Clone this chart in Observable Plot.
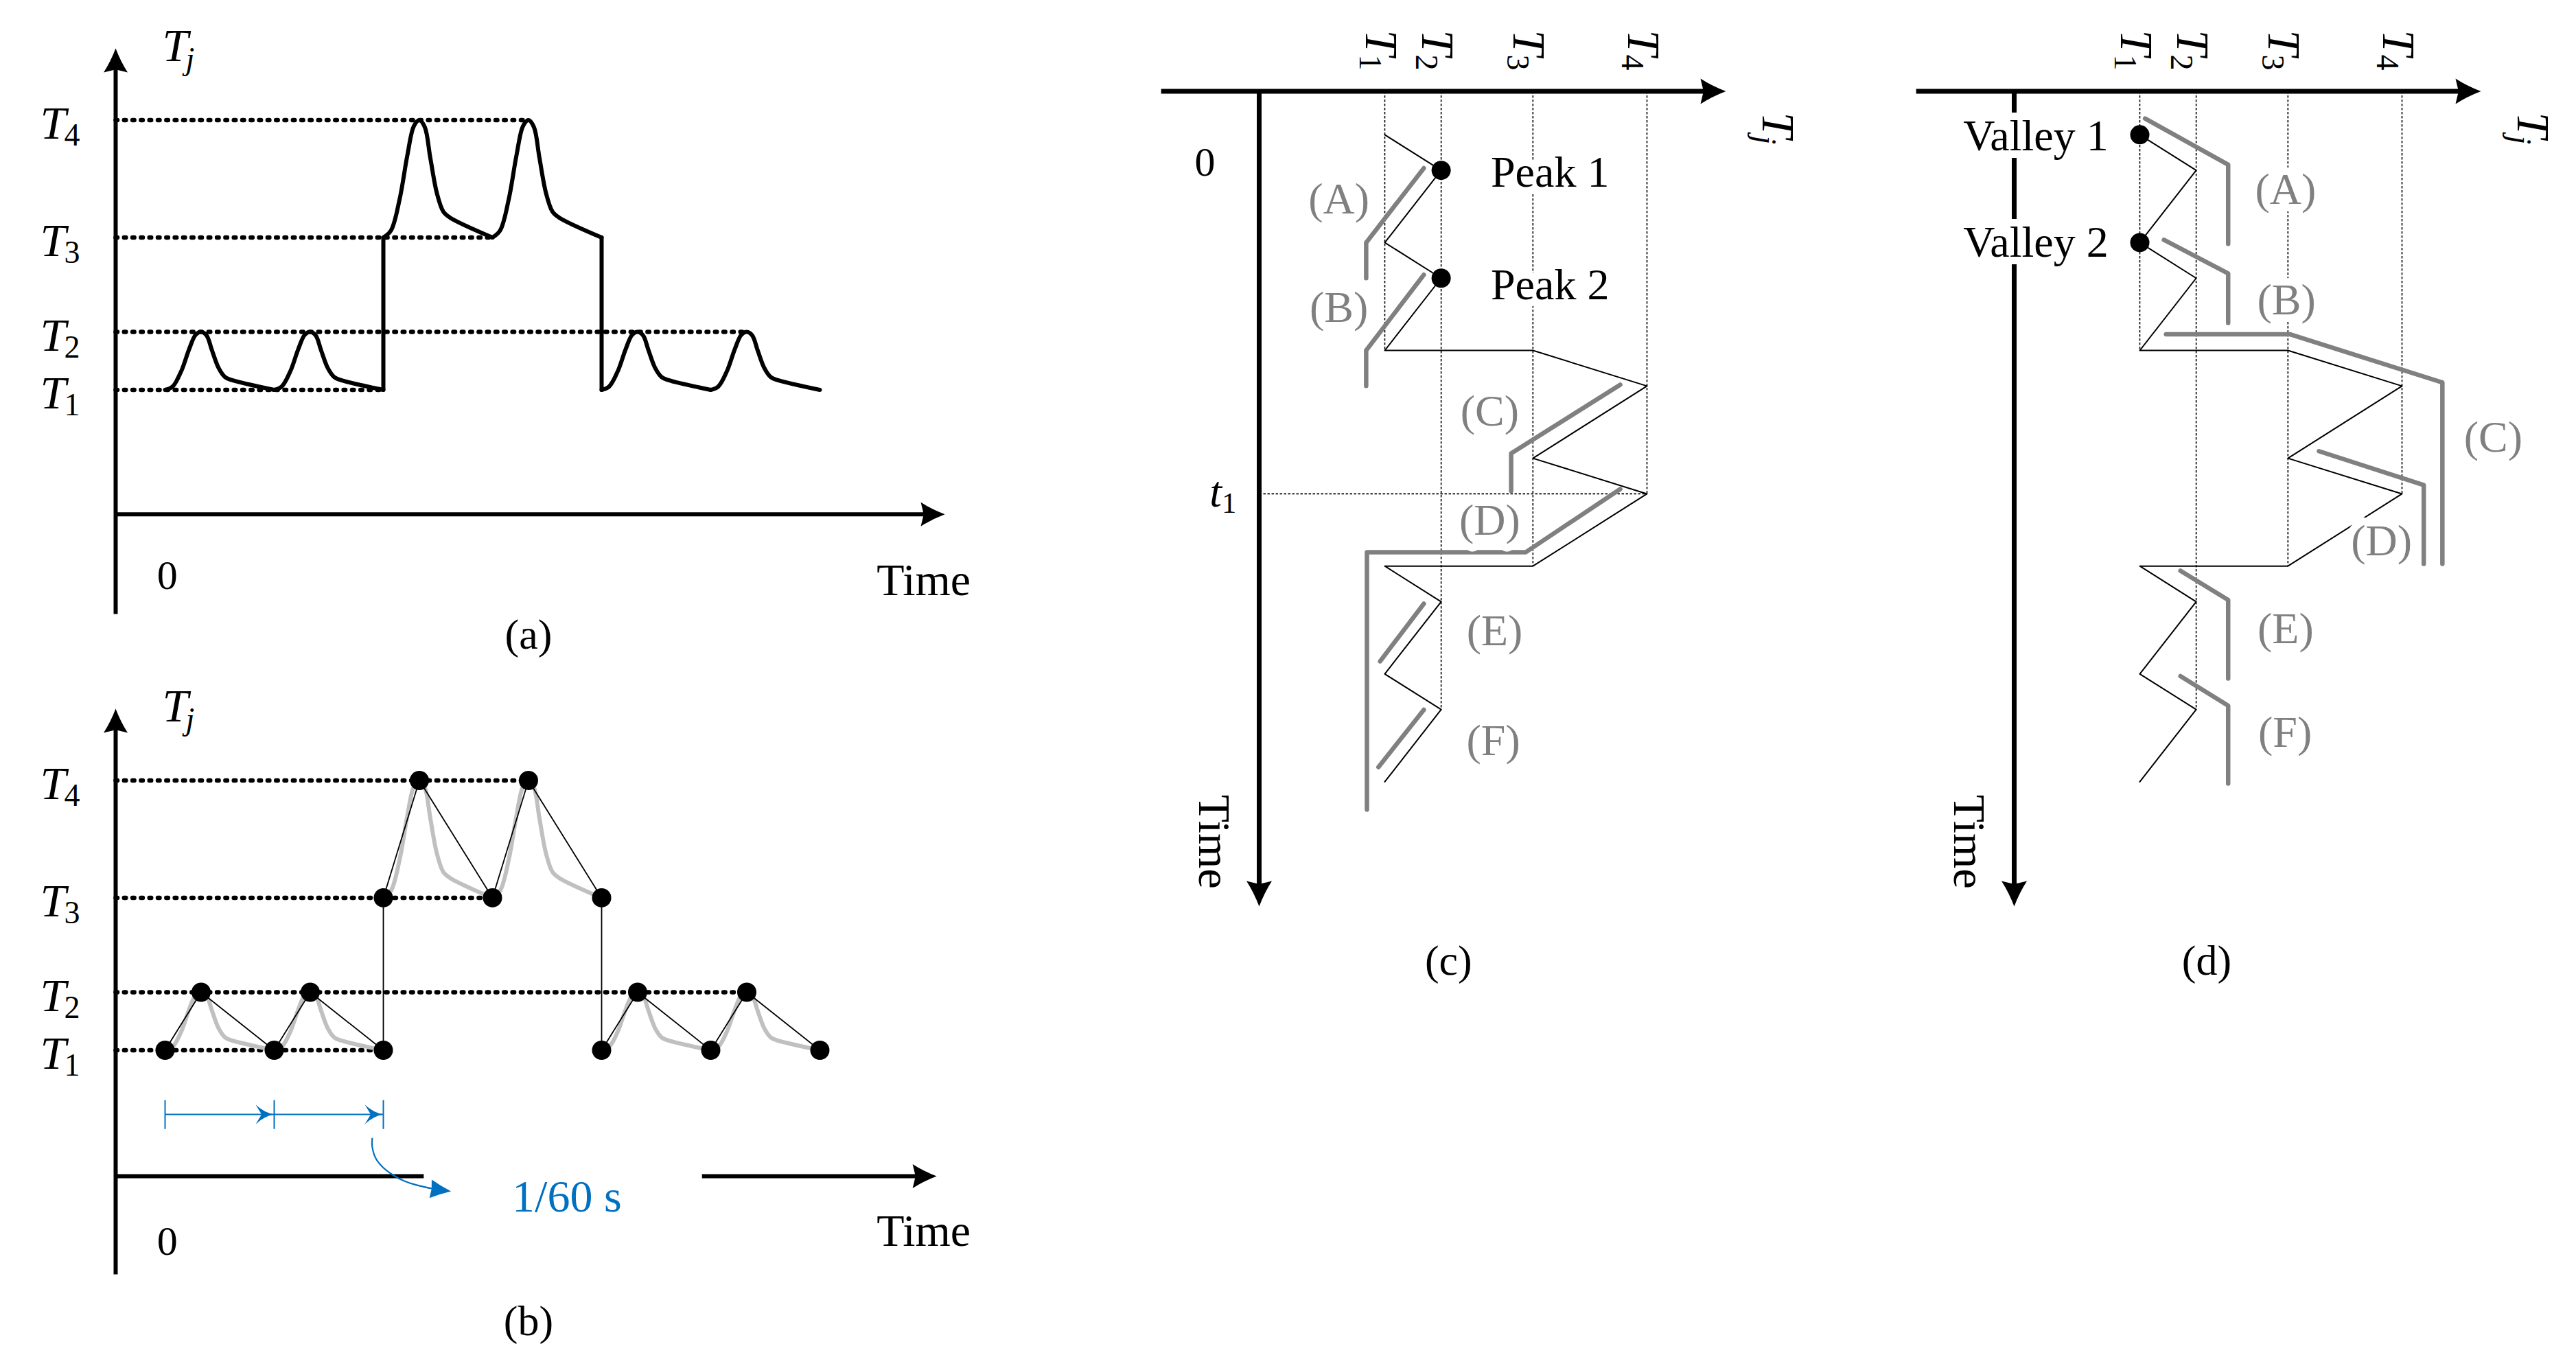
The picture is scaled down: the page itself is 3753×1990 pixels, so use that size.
<!DOCTYPE html>
<html>
<head>
<meta charset="utf-8">
<script src="https://cdn.jsdelivr.net/npm/d3@7"></script>
<script src="https://cdn.jsdelivr.net/npm/@observablehq/plot@0.6"></script>
<style>
  html, body { margin: 0; padding: 0; background: #fff; }
  #root { position: relative; width: 3753px; height: 1990px; background: #fff; overflow: hidden; }
  .panel { position: absolute; }
  .panel svg { overflow: visible; max-width: none !important; }
</style>
</head>
<body>
<div id="root"></div>
<script>
// ================= data =================
const levelNames  = ["T1", "T2", "T3", "T4"];
const levelSubs   = ["1", "2", "3", "4"];
const levelValues = [0, 0.215, 0.565, 1];          // normalized junction temperature

// one heating cycle per frame (1/60 s)
const cycleStart = [0, 1, 2, 3, 4, 5];
const cycleLow   = ["T1", "T1", "T3", "T3", "T1", "T1"];
const cycleHigh  = ["T2", "T2", "T4", "T4", "T2", "T2"];

// pulse profile inside one cycle: phase of the frame, fraction of the swing
const pulsePhase = [0, 0.07, 0.15, 0.22, 0.28, 0.33, 0.38, 0.43, 0.49, 0.55, 0.61, 1];
const pulseFrac  = [0, 0.06, 0.33, 0.70, 0.95, 1.00, 0.94, 0.68, 0.38, 0.22, 0.17, 0];

// level jumps between operating conditions
const jumpTime = [2, 4];
const jumpFrom = ["T1", "T3"];
const jumpTo   = ["T3", "T1"];

// sampled points (dots in b, zigzag in c and d)
const sampleTime  = [0, 0.33, 1, 1.33, 2, 2, 2.33, 3, 3.33, 4, 4, 4.33, 5, 5.33, 6];
const sampleLevel = ["T1","T2","T1","T2","T1","T3","T4","T3","T4","T3","T1","T2","T1","T2","T1"];

// where each dotted reference line stops (frames)
const levelLineEndAB = [2, 5.33, 3, 3.33];
const levelLineEndCD = [2, 5.33, 4, 3.33];

const frameTicks = [0, 1, 2];
const frameLabel = "1/60 s";
const frameArrowT = [1.898, 1.898, 1.930, 1.994, 2.091, 2.188, 2.316, 2.460, 2.62];
const frameArrowV = [-0.327, -0.357, -0.400, -0.433, -0.463, -0.484, -0.501, -0.514, -0.523];

const t1Frame = 3.33;
const peakFrames   = [0.33, 1.33];
const peakNames    = ["Peak 1", "Peak 2"];
const peakLabelT   = [0.479, 1.523];
const valleyFrames = [0, 1];
const valleyNames  = ["Valley 1", "Valley 2"];
const valleyLabelT = [0.145, 1.134];

const regionNames = ["(A)", "(B)", "(C)", "(D)", "(E)", "(F)"];
// gray trajectories, points as [level, frame]
const grayC = [
  [[0.149, 0.31], [-0.071, 1.0], [-0.071, 1.33]],
  [[0.149, 1.298], [-0.071, 2.0], [-0.071, 2.33]],
  [[0.898, 2.318], [0.482, 2.955], [0.482, 3.304]],
  [[0.898, 3.286], [0.537, 3.872], [-0.068, 3.872], [-0.068, 6.258]],
  [[0.149, 4.349], [-0.018, 4.883]],
  [[0.149, 5.332], [-0.024, 5.864]]
];
const grayD = [
  [[0.020, -0.151], [0.337, 0.277], [0.337, 1.012]],
  [[0.092, 0.975], [0.337, 1.287], [0.337, 1.745]],
  [[0.100, 1.850], [0.572, 1.850], [1.154, 2.297], [1.154, 3.980]],
  [[0.683, 2.934], [1.083, 3.248], [1.083, 3.980]],
  [[0.155, 4.043], [0.337, 4.314], [0.337, 5.043]],
  [[0.155, 5.020], [0.337, 5.294], [0.337, 6.017]]
];
const regionAnchorC = [[-0.175, 0.733], [-0.175, 1.739], [0.40, 2.70], [0.40, 3.712], [0.419, 4.731], [0.414, 5.75]];
const regionAnchorD = [[0.556, 0.644], [0.559, 1.663], [1.348, 2.936], [0.922, 3.897], [0.556, 4.718], [0.554, 5.679]];

// ================= helpers =================
const FONT = "'Liberation Serif', 'Times New Roman', Times, serif";
const BLUE = "#0070C0", GRAY = "#808080", LIGHT = "#c0c0c0";
const lv = n => levelValues[levelNames.indexOf(n)];

function arrowSym(widthRatio, notch, bow) {
  return {
    draw(ctx, size) {
      const L = Math.sqrt(size / Math.PI), W = L * widthRatio;
      ctx.moveTo(0, 0);
      ctx.quadraticCurveTo(W * bow, L * 0.55, W / 2, L);
      ctx.lineTo(0, L * (1 - notch));
      ctx.lineTo(-W / 2, L);
      ctx.quadraticCurveTo(-W * bow, L * 0.55, 0, 0);
      ctx.closePath();
    }
  };
}
const axisSym  = arrowSym(1.0, 0.12, 0.21);
const blueSym  = arrowSym(1.05, 0.32, 0.09);
const curveSym = arrowSym(0.9, 0.05, 0.23);

function txt(data, o, halo = false) {
  const base = {fontFamily: FONT, lineAnchor: "bottom", ...o};
  if (!halo) return [Plot.text(data, base)];
  return [
    Plot.text(data, {...base, fill: "white", stroke: "white", strokeWidth: 22, strokeLinejoin: "round"}),
    Plot.text(data, base)
  ];
}

function mount(svg, left, top, width) {
  const d = document.createElement("div");
  d.className = "panel";
  d.style.left = left + "px";
  d.style.top = top + "px";
  d.style.width = width + "px";
  d.appendChild(svg);
  document.getElementById("root").appendChild(d);
}

// ================= panels (a) and (b) =================
function panelAB(isB) {
  const W = 1450, H = isB ? 1028 : 962;
  const axisT = -0.4528, axisV = isB ? -0.467 : -0.461, yTop = 1.266, yBot = -0.831;
  const xTip = isB ? 7.07 : 7.145;
  const xSegs = isB ? [[axisT, 2.37], [4.92, xTip - 0.15]] : [[axisT, xTip - 0.15]];

  const curveRows = cycleStart.flatMap((t0, i) => {
    const lo = lv(cycleLow[i]), hi = lv(cycleHigh[i]);
    return pulsePhase.map((p, k) => ({cycle: i, t: t0 + p, v: lo + (hi - lo) * pulseFrac[k]}));
  });
  const sampleRows = sampleTime.map((t, i) => ({t, v: lv(sampleLevel[i])}));

  const marks = [
    // dotted reference levels
    Plot.link(levelNames, {x1: axisT, x2: (d, i) => levelLineEndAB[i], y1: lv, y2: lv,
      stroke: "black", strokeWidth: 6.5, strokeDasharray: "2.5 9.8", strokeLinecap: "round"}),
    // axes
    Plot.link([0], {x1: axisT, x2: axisT, y1: yBot, y2: yTop - 0.06, stroke: "black", strokeWidth: 6}),
    Plot.dot([0], {x: axisT, y: yTop, symbol: axisSym, r: 35, rotate: 0, fill: "black", stroke: "none"}),
    Plot.link(xSegs, {x1: d => d[0], x2: d => d[1], y1: axisV, y2: axisV, stroke: "black", strokeWidth: 6}),
    Plot.dot([0], {x: xTip, y: axisV, symbol: axisSym, r: 35, rotate: 90, fill: "black", stroke: "none"})
  ];

  if (!isB) {
    marks.push(
      Plot.line(curveRows, {x: "t", y: "v", z: "cycle", curve: "catmull-rom", stroke: "black",
        strokeWidth: 6, strokeLinejoin: "round", strokeLinecap: "round"}),
      Plot.link(jumpTime, {x1: d => d, x2: d => d, y1: (d, i) => lv(jumpFrom[i]), y2: (d, i) => lv(jumpTo[i]),
        stroke: "black", strokeWidth: 6, strokeLinecap: "round"})
    );
  } else {
    marks.push(
      Plot.line(curveRows, {x: "t", y: "v", z: "cycle", curve: "catmull-rom", stroke: LIGHT,
        strokeWidth: 6, strokeLinejoin: "round", strokeLinecap: "round"}),
      Plot.line(sampleRows, {x: "t", y: "v", stroke: "black", strokeWidth: 1.8}),
      Plot.dot(sampleRows, {x: "t", y: "v", r: 14, fill: "black", stroke: "none"}),
      // one-frame interval arrows
      Plot.link([0], {x1: frameTicks[0], x2: frameTicks[frameTicks.length - 1], y1: -0.238, y2: -0.238, stroke: BLUE, strokeWidth: 2}),
      Plot.link(frameTicks, {x1: d => d, x2: d => d, y1: -0.185, y2: -0.292, stroke: BLUE, strokeWidth: 2}),
      Plot.dot(frameTicks.slice(1), {x: d => d, y: -0.238, symbol: blueSym, r: 27, rotate: 90, fill: BLUE, stroke: "none"}),
      Plot.line(frameArrowT.slice(0, 8).map((t, i) => ({t, v: frameArrowV[i]})),
        {x: "t", y: "v", curve: "catmull-rom", stroke: BLUE, strokeWidth: 2.2}),
      Plot.dot([0], {x: frameArrowT[8], y: frameArrowV[8], symbol: curveSym, r: 30, rotate: 97, fill: BLUE, stroke: "none"}),
      txt([0], {x: 3.18, y: -0.599, text: () => frameLabel, fill: BLUE, fontSize: 66, textAnchor: "start"})
    );
  }

  marks.push(
    // level labels
    txt(levelNames, {x: -1.145, y: lv, text: () => "T", fontStyle: "italic", fontSize: 68, textAnchor: "start", dy: 27}),
    txt(levelNames, {x: -1.145, y: lv, text: (d, i) => levelSubs[i], fontSize: 46, textAnchor: "start", dx: 35, dy: 37}),
    // Tj label
    txt([0], {x: -0.025, y: 1.22, text: () => "T", fontStyle: "italic", fontSize: 68, textAnchor: "start"}),
    txt([0], {x: -0.025, y: 1.22, text: () => "j", fontStyle: "italic", fontSize: 46, textAnchor: "start", dx: 34, dy: 12}),
    txt([0], {x: 0.02, y: isB ? -0.757 : -0.737, text: () => "0", fontSize: 60, textAnchor: "middle"}),
    txt([0], {x: 6.52, y: isB ? -0.724 : -0.76, text: () => "Time", fontSize: 66, textAnchor: "start"}),
    txt([0], {x: 3.33, y: isB ? -1.057 : -0.96, text: () => (isB ? "(b)" : "(a)"), fontSize: 62, textAnchor: "middle"})
  );

  return Plot.plot({
    width: W, height: H, margin: 0,
    x: {domain: [0, 6], range: [240, 1194], axis: null},
    y: {domain: [0, 1], range: [567.5, 174.5], axis: null},
    style: {background: "transparent", overflow: "visible"},
    marks
  });
}

// ================= panels (c) and (d) =================
function panelCD(isD) {
  const W = isD ? 1003 : 1000, H = 1450;
  const tjAxisT = -0.403, tjStart = -0.853, tjTip = 1.301;
  const timeAxisV = -0.479, timeTip = 7.156;
  const gray = isD ? grayD : grayC;
  const anchors = isD ? regionAnchorD : regionAnchorC;
  const grayRows = gray.flatMap((path, id) => path.map(([v, t]) => ({id, v, t})));
  const sampleRows = sampleTime.map((t, i) => ({t, v: lv(sampleLevel[i])}));

  const marks = [
    // dotted level guides
    Plot.link(levelNames, {x1: lv, x2: lv, y1: tjAxisT, y2: (d, i) => levelLineEndCD[i],
      stroke: "black", strokeWidth: 1.6, strokeDasharray: "3.5 2.5"}),
    // axes
    Plot.link([0], {x1: tjStart, x2: tjTip - 0.06, y1: tjAxisT, y2: tjAxisT, stroke: "black", strokeWidth: 7}),
    Plot.dot([0], {x: tjTip, y: tjAxisT, symbol: axisSym, r: 37, rotate: 90, fill: "black", stroke: "none"}),
    Plot.link([0], {x1: timeAxisV, x2: timeAxisV, y1: tjAxisT, y2: timeTip - 0.15, stroke: "black", strokeWidth: 7}),
    Plot.dot([0], {x: timeAxisV, y: timeTip, symbol: axisSym, r: 37, rotate: 180, fill: "black", stroke: "none"}),
    // sampled zigzag
    Plot.line(sampleRows, {x: "v", y: "t", stroke: "black", strokeWidth: 2}),
    // gray trajectories
    Plot.line(grayRows, {x: "v", y: "t", z: "id", stroke: GRAY, strokeWidth: 6.5,
      strokeLinecap: "round", strokeLinejoin: "round"})
  ];

  if (!isD) {
    marks.unshift(Plot.link([t1Frame], {x1: timeAxisV, x2: 1, y1: d => d, y2: d => d,
      stroke: "black", strokeWidth: 1.8, strokeDasharray: "3.5 2.5"}));
    marks.push(
      Plot.dot(peakFrames, {x: lv("T2"), y: d => d, r: 14, fill: "black", stroke: "none"}),
      txt(peakNames, {x: 0.4045, y: (d, i) => peakLabelT[i], text: d => d, fontSize: 64, textAnchor: "start"}, true),
      txt([0], {x: -0.686, y: 0.377, text: () => "0", fontSize: 60, textAnchor: "middle"}),
      txt([0], {x: -0.668, y: 3.445, text: () => "t", fontStyle: "italic", fontSize: 64, textAnchor: "start"}),
      txt([0], {x: -0.668, y: 3.445, text: () => "1", fontSize: 42, textAnchor: "start", dx: 18, dy: 9})
    );
  } else {
    marks.push(
      Plot.dot(valleyFrames, {x: lv("T1"), y: d => d, r: 14, fill: "black", stroke: "none"}),
      txt(valleyNames, {x: -0.12, y: (d, i) => valleyLabelT[i], text: d => d, fontSize: 64, textAnchor: "end"}, true)
    );
  }

  marks.push(
    txt(regionNames, {x: (d, i) => anchors[i][0], y: (d, i) => anchors[i][1], text: d => d,
      fill: GRAY, fontSize: 64, textAnchor: "middle"}, true),
    // rotated level labels
    txt(levelNames, {x: lv, y: -0.973, text: () => "T", rotate: 90, fontStyle: "italic", fontSize: 68, textAnchor: "start", dx: -28}),
    txt(levelNames, {x: lv, y: -0.973, text: (d, i) => levelSubs[i], rotate: 90, fontSize: 46, textAnchor: "start", dx: -37, dy: 36}),
    // Tj label (rotated)
    txt([0], {x: 1.442, y: -0.209, text: () => "T", rotate: 90, fontStyle: "italic", fontSize: 68, textAnchor: "start"}),
    txt([0], {x: 1.442, y: -0.209, text: () => "j", rotate: 90, fontStyle: "italic", fontSize: 46, textAnchor: "start", dx: -12, dy: 34}),
    // Time (rotated)
    txt([0], {x: -0.709, y: 6.12, text: () => "Time", rotate: 90, fontSize: 66, textAnchor: "start"}),
    txt([0], {x: isD ? 0.255 : 0.243, y: 7.79, text: () => (isD ? "(d)" : "(c)"), fontSize: 62, textAnchor: "middle"})
  );

  return Plot.plot({
    width: W, height: H, margin: 0,
    x: {domain: [0, 1], range: [367, 749], axis: null},
    y: {domain: [0, 6], range: [195.8, 1138.4], axis: null},
    style: {background: "transparent", overflow: "visible"},
    marks
  });
}

mount(panelAB(false), 0, 0, 1450);
mount(panelAB(true), 0, 962, 1450);
mount(panelCD(false), 1650, 0, 1000);
mount(panelCD(true), 2750, 0, 1003);
</script>
</body>
</html>
